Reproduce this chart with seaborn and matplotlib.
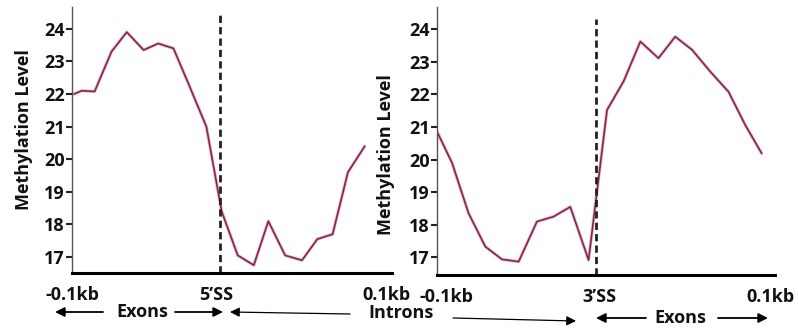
import matplotlib
matplotlib.use("Agg")
import matplotlib.pyplot as plt
import seaborn as sns
import pandas as pd

sns.set_style("white")
plt.rcParams['font.family'] = ['Open Sans', 'DejaVu Sans']
plt.rcParams['font.weight'] = 'bold'

# ---- data ----
left_x = [0, 0.5, 1.35, 2.45, 3.45, 4.55, 5.5, 6.5, 7.45, 8.65,
          9.65, 10.7, 11.75, 12.7, 13.8, 14.9, 15.9, 16.9, 17.9, 19.0]
left_y = [22.0, 22.1, 22.08, 23.3, 23.9, 23.35, 23.55, 23.4, 22.35, 21.0,
          18.4, 17.05, 16.75, 18.1, 17.05, 16.9, 17.55, 17.7, 19.6, 20.4]
right_x = [0, 0.88, 1.85, 2.83, 3.8, 4.78, 5.85, 6.82, 7.8, 8.87,
           9.95, 10.92, 11.9, 12.96, 13.94, 14.92, 15.99, 17.06, 18.04, 19.0]
right_y = [20.86, 19.9, 18.35, 17.33, 16.94, 16.87, 18.1, 18.25, 18.55, 16.92,
           21.52, 22.4, 23.62, 23.11, 23.77, 23.37, 22.7, 22.08, 21.06, 20.19]
yticks = [17, 18, 19, 20, 21, 22, 23, 24]
left_xlabels = ["-0.1kb", "5\u2019SS", "0.1kb"]
right_xlabels = ["-0.1kb", "3\u2019SS", "0.1kb"]
ylabel = "Methylation Level"

W, H = 798, 328
fig = plt.figure(figsize=(W / 100, H / 100), dpi=100)


def px_rect(x0, y0, x1, y1):
    return [x0 / W, 1 - y1 / H, (x1 - x0) / W, (y1 - y0) / H]


axL = fig.add_axes(px_rect(72, 7, 392, 273))
axR = fig.add_axes(px_rect(437, 7, 775, 275))

pink = "#e0508a"
core = "#7a2a4c"


def draw(ax, xs, ys, xlim, ylim, ss, dash_top, ticks, labels, lab_xy):
    df = pd.DataFrame({"x": xs, "y": ys})
    sns.lineplot(data=df, x="x", y="y", ax=ax, color=pink, lw=2.4, alpha=0.4,
                 sort=False, estimator=None)
    sns.lineplot(data=df, x="x", y="y", ax=ax, color=core, lw=1.2,
                 sort=False, estimator=None)
    ax.set_xlim(*xlim)
    ax.set_ylim(*ylim)
    ax.axvline(ss, ymin=0, ymax=dash_top, color="#222222", lw=2.0,
               ls=(0, (2.6, 1.5)))
    ax.set_yticks(yticks)
    ax.set_yticklabels([str(t) for t in yticks])
    ax.set_xticks(ticks)
    ax.set_xticklabels(labels)
    ax.tick_params(axis="y", which="major", left=True, length=4, width=1.5,
                   color="#222222", pad=1, labelsize=13, labelcolor="#111111")
    ax.tick_params(axis="x", which="major", bottom=False, length=0, pad=9,
                   labelsize=13, labelcolor="#111111")
    for s in ["top", "right"]:
        ax.spines[s].set_visible(False)
    ax.spines["left"].set_color("#555555")
    ax.spines["left"].set_linewidth(1.0)
    ax.spines["bottom"].set_color("black")
    ax.spines["bottom"].set_linewidth(2.2)
    ax.set_xlabel("")
    ax.set_ylabel(ylabel, fontsize=13, fontweight="bold", color="#111111")
    ax.yaxis.set_label_coords(*lab_xy)
    ax.set_facecolor("white")


draw(axL, left_x, left_y, (0, 20.78), (16.51, 24.67), 9.55, 0.97,
     [-0.13, 9.3, 20.4], left_xlabels, (-0.122, 0.538))
draw(axR, right_x, right_y, (0, 19.78), (16.46, 24.68), 9.32, 0.955,
     [0.54, 9.49, 19.5], right_xlabels, (-0.123, 0.451))


def fx(x):
    return x / W


def fy(y):
    return 1 - y / H


def arrow(x0, y0, x1, y1, lw=1.3):
    fig.add_artist(matplotlib.patches.FancyArrowPatch(
        (fx(x0), fy(y0)), (fx(x1), fy(y1)), transform=fig.transFigure,
        arrowstyle="-|>", mutation_scale=14, lw=lw, color="black",
        shrinkA=0, shrinkB=0))


def label(x, y, s):
    fig.text(fx(x), fy(y), s, ha="center", va="center", fontsize=13,
             fontweight="bold", color="#111111")


arrow(103, 312, 55, 312)
label(142, 312, "Exons")
arrow(175, 312, 223, 312)
arrow(350, 314, 230, 312, lw=0.9)
label(401, 313, "Introns")
arrow(453, 318, 576, 321, lw=0.9)
arrow(646, 318, 596, 318)
label(680, 318, "Exons")
arrow(718, 318, 768, 318)

fig.savefig("out.png", dpi=100, facecolor="white")
